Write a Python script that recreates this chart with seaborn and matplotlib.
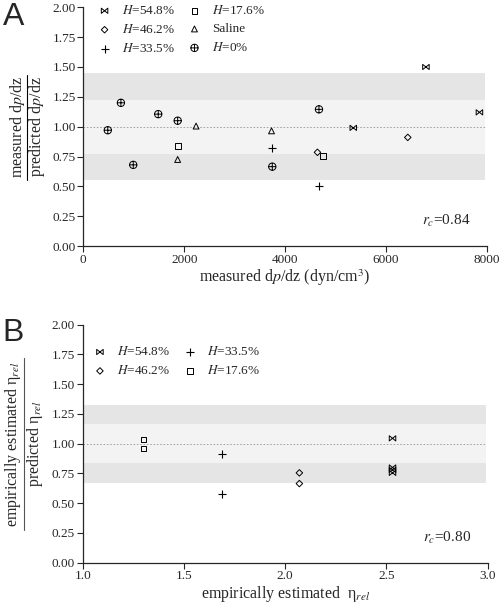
import numpy as np
import pandas as pd
import matplotlib
matplotlib.use("Agg")
import matplotlib.pyplot as plt
from matplotlib.path import Path
from matplotlib.lines import Line2D
import seaborn as sns

sns.set_style("ticks")
plt.rcParams["font.family"] = ["Liberation Serif", "DejaVu Serif"]
plt.rcParams["mathtext.fontset"] = "stix"

# ---- Panel A data: measured dp/dz vs measured/predicted ratio
a_h548_x = [5350, 6790, 7850]
a_h548_y = [0.99, 1.50, 1.12]
a_h462_x = [4640, 6430]
a_h462_y = [0.785, 0.91]
a_h335_x = [3730, 4670]
a_h335_y = [0.82, 0.50]
a_h176_x = [1880, 4745]
a_h176_y = [0.84, 0.755]
a_sal_x = [1870, 2235, 3730]
a_sal_y = [0.725, 1.005, 0.965]
a_h0_x = [485, 745, 990, 1485, 1870, 3745, 4670]
a_h0_y = [0.97, 1.20, 0.68, 1.105, 1.05, 0.665, 1.145]

# ---- Panel B data: empirical eta_rel vs ratio
b_h548_x = [2.53, 2.53, 2.53, 2.53]
b_h548_y = [1.045, 0.80, 0.78, 0.755]
b_h462_x = [2.07, 2.07]
b_h462_y = [0.755, 0.665]
b_h335_x = [1.69, 1.69]
b_h335_y = [0.91, 0.58]
b_h176_x = [1.30, 1.30]
b_h176_y = [1.035, 0.96]

# shaded bands (dark, light, dark)
a_bands = [(0.55, 0.77), (0.77, 1.225), (1.225, 1.45)]
b_bands = [(0.67, 0.84), (0.84, 1.165), (1.165, 1.325)]
rc_a = "0.84"
rc_b = "0.80"

# custom markers
bowtie = Path([(-1, -0.8), (-1, 0.8), (1, -0.8), (1, 0.8), (-1, -0.8)],
              [Path.MOVETO, Path.LINETO, Path.LINETO, Path.LINETO, Path.CLOSEPOLY])
cross = Path([(-1, 0), (1, 0), (0, -1), (0, 1)],
             [Path.MOVETO, Path.LINETO, Path.MOVETO, Path.LINETO])
oplus = Path.make_compound_path(Path.unit_circle(), cross)

styles = {
    "54.8": dict(marker=bowtie, s=22),
    "46.2": dict(marker="D", s=11),
    "33.5": dict(marker="+", s=36),
    "17.6": dict(marker="s", s=18),
    "sal": dict(marker="^", s=18),
    "0": dict(marker=oplus, s=28),
}
labels = {
    "54.8": r"$H$=54.8%", "46.2": r"$H$=46.2%", "33.5": r"$H$=33.5%",
    "17.6": r"$H$=17.6%", "sal": "Saline", "0": r"$H$=0%",
}


def frame(xs, ys, key):
    return pd.DataFrame({"x": xs, "y": ys, "grp": key})


df_a = pd.concat([
    frame(a_h548_x, a_h548_y, "54.8"), frame(a_h462_x, a_h462_y, "46.2"),
    frame(a_h335_x, a_h335_y, "33.5"), frame(a_h176_x, a_h176_y, "17.6"),
    frame(a_sal_x, a_sal_y, "sal"), frame(a_h0_x, a_h0_y, "0"),
])
df_b = pd.concat([
    frame(b_h548_x, b_h548_y, "54.8"), frame(b_h462_x, b_h462_y, "46.2"),
    frame(b_h335_x, b_h335_y, "33.5"), frame(b_h176_x, b_h176_y, "17.6"),
])

fig = plt.figure(figsize=(5.0, 6.1), dpi=100)
ax_a = fig.add_axes([0.1666, 0.5967, 0.8074, 0.3913])
ax_b = fig.add_axes([0.1654, 0.0775, 0.8100, 0.3902])

band_cols = ["#e5e5e5", "#f3f3f3", "#e5e5e5"]


def draw_panel(ax, df, bands, order):
    for (lo, hi), c in zip(bands, band_cols):
        ax.axhspan(lo, hi, xmin=0, xmax=0.996, color=c, lw=0, zorder=0)
    ax.axhline(1.0, xmax=0.996, color="#9a9a9a", lw=0.6, ls=(0, (2, 2)), zorder=1)
    for key in order:
        sub = df[df["grp"] == key]
        st = styles[key]
        if st["marker"] == "+":
            sns.scatterplot(data=sub, x="x", y="y", ax=ax, marker="+", s=st["s"],
                            color="k", linewidth=0.8, label=labels[key], zorder=3)
        else:
            sns.scatterplot(data=sub, x="x", y="y", ax=ax, marker=st["marker"],
                            s=st["s"], facecolor="none", edgecolor="k",
                            linewidth=0.7, label=labels[key], zorder=3)
    ax.set_ylim(0, 2)
    ax.set_yticks(np.arange(0, 2.01, 0.25))
    ax.set_yticklabels([f"{v:.2f}" for v in np.arange(0, 2.01, 0.25)])
    ax.tick_params(direction="out", length=4, width=0.8, labelsize=9.5, pad=1.5)
    for sp in ["left", "bottom"]:
        ax.spines[sp].set_linewidth(0.9)
    sns.despine(ax=ax)
    ax.set_ylabel("")


draw_panel(ax_a, df_a, a_bands, ["54.8", "46.2", "33.5", "17.6", "sal", "0"])
ax_a.set_xlim(0, 8000)
ax_a.set_xticks([0, 2000, 4000, 6000, 8000])
ax_a.set_xlabel(r"measured d$p$/dz (dyn/cm$^3$)", fontsize=11.5, labelpad=1)
ax_a.legend(ncol=2, frameon=False, loc="upper left", bbox_to_anchor=(0.02, 1.035),
            fontsize=9.5, handlelength=1.2, handletextpad=0.7, columnspacing=0.9,
            labelspacing=0.45, borderaxespad=0)
ax_a.text(0.96, 0.105, r"$r_c$=" + rc_a, transform=ax_a.transAxes, fontsize=11,
          ha="right", va="center")

draw_panel(ax_b, df_b, b_bands, ["54.8", "46.2", "33.5", "17.6"])
ax_b.set_xlim(1.0, 3.0)
ax_b.set_xticks([1.0, 1.5, 2.0, 2.5, 3.0])
ax_b.set_xticklabels(["1.0", "1.5", "2.0", "2.5", "3.0"])
ax_b.set_xlabel("empirically estimated  η$_{rel}$", fontsize=11.5, labelpad=1)
ax_b.legend(ncol=2, frameon=False, loc="upper left", bbox_to_anchor=(0.01, 0.935),
            fontsize=9.5, handlelength=1.2, handletextpad=0.7, columnspacing=0.9,
            labelspacing=0.45, borderaxespad=0)
ax_b.text(0.96, 0.105, r"$r_c$=" + rc_b, transform=ax_b.transAxes, fontsize=11,
          ha="right", va="center")

# fraction-style y labels
fig.text(0.036, 1 - 127 / 610, r"measured d$p$/dz", rotation=90, fontsize=11.5,
         ha="center", va="center")
fig.text(0.074, 1 - 127 / 610, r"predicted d$p$/dz", rotation=90, fontsize=11.5,
         ha="center", va="center")
fig.add_artist(Line2D([0.054, 0.054], [1 - 180 / 610, 1 - 75 / 610],
                      color="k", lw=0.8, transform=fig.transFigure))

fig.text(0.026, 1 - 444 / 610, "empirically estimated η$_{rel}$", rotation=90,
         fontsize=11.5, ha="center", va="center")
fig.text(0.070, 1 - 444 / 610, "predicted η$_{rel}$", rotation=90, fontsize=11.5,
         ha="center", va="center")
fig.add_artist(Line2D([0.047, 0.047], [1 - 530 / 610, 1 - 358 / 610],
                      color="#555555", lw=0.8, transform=fig.transFigure))

fig.text(0.005, 1 - 2 / 610, "A", fontsize=23, family="Liberation Sans",
         ha="left", va="top")
fig.text(0.005, 1 - 318 / 610, "B", fontsize=23, family="Liberation Sans",
         ha="left", va="top")

fig.savefig("out.png", dpi=100)
